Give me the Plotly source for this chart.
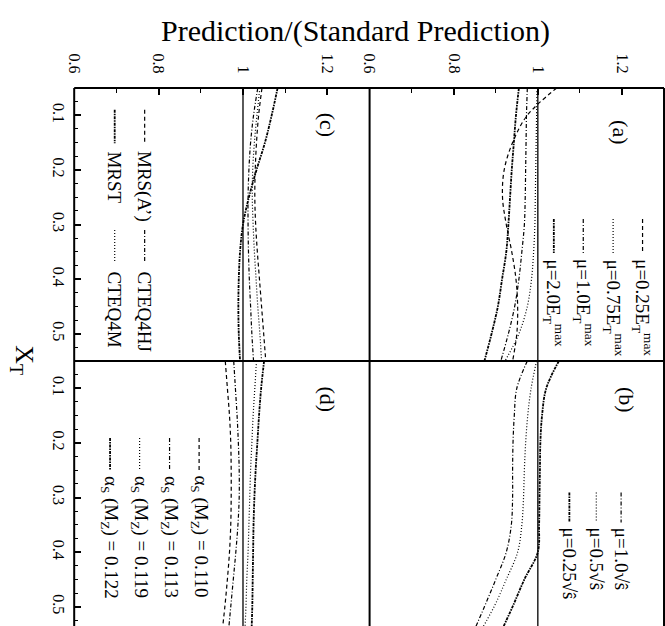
import plotly.graph_objects as go

# ---------------- data ----------------
xT = [0.05, 0.10, 0.15, 0.20, 0.25, 0.30, 0.35, 0.40, 0.45, 0.50, 0.55]

# panel (a): scale choices mu = c * E_T^max
a_025 = [1.045, 0.975, 0.940, 0.920, 0.916, 0.925, 0.938, 0.948, 0.952, 0.950, 0.940]
a_075 = [0.998, 0.997, 0.996, 0.995, 0.994, 0.993, 0.990, 0.985, 0.975, 0.955, 0.922]
a_100 = [0.975, 0.973, 0.972, 0.971, 0.970, 0.968, 0.962, 0.955, 0.945, 0.930, 0.912]
a_200 = [0.955, 0.948, 0.943, 0.938, 0.934, 0.930, 0.925, 0.915, 0.905, 0.890, 0.873]

# panel (b): mu = c * sqrt(s-hat)
b_100 = [0.975, 0.950, 0.944, 0.941, 0.940, 0.940, 0.937, 0.925, 0.900, 0.873, 0.845]
b_050 = [0.997, 0.984, 0.976, 0.971, 0.968, 0.966, 0.962, 0.952, 0.925, 0.896, 0.860]
b_025 = [1.050, 1.020, 1.010, 1.006, 1.005, 1.004, 1.003, 1.000, 0.968, 0.940, 0.910]

# panel (c): parton distributions
c_mrsa = [1.045, 1.037, 1.032, 1.029, 1.028, 1.030, 1.034, 1.039, 1.044, 1.049, 1.054]
c_cteq4hj = [1.035, 1.025, 1.018, 1.014, 1.012, 1.012, 1.013, 1.015, 1.018, 1.021, 1.025]
c_cteq4m = [1.040, 1.033, 1.027, 1.023, 1.022, 1.024, 1.027, 1.031, 1.035, 1.040, 1.044]
c_mrst = [1.082, 1.068, 1.052, 1.032, 1.014, 1.000, 0.993, 0.990, 0.989, 0.990, 0.993]

# panel (d): alpha_s(M_Z)
d_110 = [0.958, 0.963, 0.968, 0.971, 0.972, 0.972, 0.971, 0.968, 0.963, 0.957, 0.950]
d_113 = [0.978, 0.982, 0.986, 0.989, 0.991, 0.991, 0.988, 0.983, 0.977, 0.971, 0.965]
d_119 = [1.032, 1.028, 1.024, 1.021, 1.018, 1.016, 1.014, 1.012, 1.009, 1.007, 1.004]
d_122 = [1.050, 1.043, 1.038, 1.034, 1.030, 1.027, 1.025, 1.024, 1.023, 1.022, 1.020]

ratio_ticks = [0.6, 0.8, 1.0, 1.2]
ratio_labels = ["0.6", "0.8", "1", "1.2"]
xT_ticks = [0.1, 0.2, 0.3, 0.4, 0.5]
xT_labels = ["0.1", "0.2", "0.3", "0.4", "0.5"]

# ---------------- styles ----------------
FONT = "Liberation Serif"
STY = {
    "dash": dict(color="black", width=1.2, dash="4px,3px"),
    "dot": dict(color="black", width=1.2, dash="1px,2px"),
    "dashdot": dict(color="black", width=1.2, dash="4px,2px,1px,2px"),
    "marker": dict(color="black", width=1.8, dash="3px,1px,1.5px,1px"),
}

W, H = 665, 626
def px(v): return v / W
def py(v): return 1 - v / H

xdomL = [px(67), px(366)]
xdomR = [px(366), px(664)]
ydomT = [py(361), py(88)]
ydomB = [0.0, py(361)]

fig = go.Figure()

panels = {
    "c": ("x", "y"),
    "a": ("x2", "y2"),
    "d": ("x3", "y3"),
    "b": ("x4", "y4"),
}

def add_curve(panel, vals, style):
    xa, ya = panels[panel]
    fig.add_trace(go.Scatter(x=vals, y=xT, mode="lines", line=dict(**STY[style], shape="spline"),
                             xaxis=xa, yaxis=ya, showlegend=False, hoverinfo="skip"))

series = [
    ("a", a_025, "dash", "μ=0.25E<sub>T</sub><sup>max</sup>"),
    ("a", a_075, "dot", "μ=0.75E<sub>T</sub><sup>max</sup>"),
    ("a", a_100, "dashdot", "μ=1.0E<sub>T</sub><sup>max</sup>"),
    ("a", a_200, "marker", "μ=2.0E<sub>T</sub><sup>max</sup>"),
    ("b", b_100, "dashdot", "μ=1.0√ŝ"),
    ("b", b_050, "dot", "μ=0.5√ŝ"),
    ("b", b_025, "marker", "μ=0.25√ŝ"),
    ("c", c_mrsa, "dash", "MRS(A’)"),
    ("c", c_cteq4hj, "dashdot", "CTEQ4HJ"),
    ("c", c_mrst, "marker", "MRST"),
    ("c", c_cteq4m, "dot", "CTEQ4M"),
    ("d", d_110, "dash", "α<sub>S</sub> (M<sub>Z</sub>) = 0.110"),
    ("d", d_113, "dashdot", "α<sub>S</sub> (M<sub>Z</sub>) = 0.113"),
    ("d", d_119, "dot", "α<sub>S</sub> (M<sub>Z</sub>) = 0.119"),
    ("d", d_122, "marker", "α<sub>S</sub> (M<sub>Z</sub>) = 0.122"),
]
for p, vals, sty, _ in series:
    add_curve(p, vals, sty)

# legend positions (ratio-axis coordinate, sample start, sample end, text start) -- layout only
legend_pos = {
    "a": [(1.249, 0.290, 0.352, 0.360), (1.179, 0.290, 0.352, 0.360),
          (1.108, 0.290, 0.352, 0.360), (1.038, 0.290, 0.352, 0.360)],
    "b": [(1.198, 0.291, 0.346, 0.352), (1.139, 0.291, 0.346, 0.352), (1.075, 0.291, 0.346, 0.352)],
    "c": [(0.767, 0.090, 0.151, 0.162), (0.767, 0.310, 0.370, 0.382),
          (0.696, 0.090, 0.151, 0.162), (0.696, 0.310, 0.370, 0.382)],
    "d": [(0.896, 0.191, 0.250, 0.256), (0.826, 0.191, 0.250, 0.256),
          (0.755, 0.191, 0.250, 0.256), (0.685, 0.191, 0.250, 0.256)],
}
counters = {k: 0 for k in legend_pos}
annotations = []
for p, vals, sty, label in series:
    lx, y0, y1, yt = legend_pos[p][counters[p]]
    counters[p] += 1
    xa, ya = panels[p]
    fig.add_trace(go.Scatter(x=[lx, lx], y=[y0, y1], mode="lines", line=STY[sty],
                             xaxis=xa, yaxis=ya, showlegend=False, hoverinfo="skip"))
    annotations.append(dict(text=label, x=lx, y=yt, xref=xa, yref=ya, showarrow=False,
                            textangle=90, xanchor="center", yanchor="top",
                            font=dict(family=FONT, size=19, color="black")))

# panel labels
for p, (lx, ly) in {"a": (1.198, 0.131), "b": (1.209, 0.121), "c": (1.200, 0.118), "d": (1.200, 0.121)}.items():
    xa, ya = panels[p]
    annotations.append(dict(text="(%s)" % p, x=lx, y=ly, xref=xa, yref=ya, showarrow=False,
                            textangle=90, xanchor="center", yanchor="middle",
                            font=dict(family=FONT, size=22, color="black")))

# axis titles
annotations.append(dict(text="Prediction/(Standard Prediction)", x=px(352), y=py(31), xref="paper", yref="paper",
                        xanchor="center", yanchor="middle",
                        showarrow=False, font=dict(family=FONT, size=30, color="black")))
annotations.append(dict(text="X<sub>T</sub>", x=px(15), y=py(360), xref="paper", yref="paper",
                        xanchor="center", yanchor="middle",
                        showarrow=False, textangle=90, font=dict(family=FONT, size=26, color="black")))

# reference lines at ratio 1
shapes = []
for p, (xa, ya) in panels.items():
    shapes.append(dict(type="line", xref=xa, yref=ya + " domain", x0=1, x1=1, y0=0, y1=1,
                       line=dict(color="black", width=1.3)))
# frame
fw = 2
shapes += [
    dict(type="line", xref="paper", yref="paper", x0=px(67), x1=px(664), y0=py(88), y1=py(88), line=dict(color="black", width=fw)),
    dict(type="line", xref="paper", yref="paper", x0=px(67), x1=px(664), y0=py(361), y1=py(361), line=dict(color="black", width=fw)),
    dict(type="line", xref="paper", yref="paper", x0=px(67), x1=px(67), y0=0, y1=py(88), line=dict(color="black", width=fw)),
    dict(type="line", xref="paper", yref="paper", x0=px(366), x1=px(366), y0=0, y1=py(88), line=dict(color="black", width=fw)),
    dict(type="line", xref="paper", yref="paper", x0=px(664), x1=px(664), y0=0, y1=py(88), line=dict(color="black", width=fw)),
]

tickfont = dict(family=FONT, size=16, color="black")

def xax(dom, top):
    d = dict(domain=dom, range=[0.6, 1.3], showgrid=False, zeroline=False, showline=False,
             fixedrange=True)
    if top:
        d.update(side="top", ticks="inside", ticklen=7, tickwidth=1.5, tickcolor="black",
                 tickvals=ratio_ticks, ticktext=ratio_labels, tickangle=90, tickfont=tickfont,
                 ticklabelstandoff=11,
                 minor=dict(tickvals=[0.7, 0.9, 1.1], ticks="inside", ticklen=5, tickwidth=1.3, tickcolor="black"))
    else:
        d.update(showticklabels=False, ticks="")
    return d

def yax(dom, rng, left):
    d = dict(domain=dom, range=rng, showgrid=False, zeroline=False, showline=False, fixedrange=True)
    if left:
        d.update(ticks="inside", ticklen=7, tickwidth=1.5, tickcolor="black",
                 tickvals=xT_ticks, ticktext=xT_labels, tickangle=90, tickfont=tickfont,
                 ticklabelstandoff=4,
                 minor=dict(dtick=0.025, tick0=0, ticks="inside", ticklen=4, tickwidth=1.3, tickcolor="black"))
    else:
        d.update(showticklabels=False, ticks="")
    return d

bot_rng = [0.05 + (626 - 361) / 546.0, 0.05]

fig.update_layout(
    width=W, height=H, margin=dict(l=0, r=0, t=0, b=0),
    paper_bgcolor="white", plot_bgcolor="rgba(0,0,0,0)",
    xaxis=xax(xdomL, True), yaxis=yax(ydomT, [0.55, 0.05], True),
    xaxis2=xax(xdomR, True), yaxis2=yax(ydomT, [0.55, 0.05], False),
    xaxis3=xax(xdomL, False), yaxis3=yax(ydomB, bot_rng, True),
    xaxis4=xax(xdomR, False), yaxis4=yax(ydomB, bot_rng, False),
    shapes=shapes, annotations=annotations, showlegend=False,
)
for i, (xa, ya) in enumerate([("x", "y"), ("x2", "y2"), ("x3", "y3"), ("x4", "y4")]):
    k = "" if i == 0 else str(i + 1)
    fig.layout["xaxis" + k].anchor = ya
    fig.layout["yaxis" + k].anchor = xa

fig.write_html("out.html")
